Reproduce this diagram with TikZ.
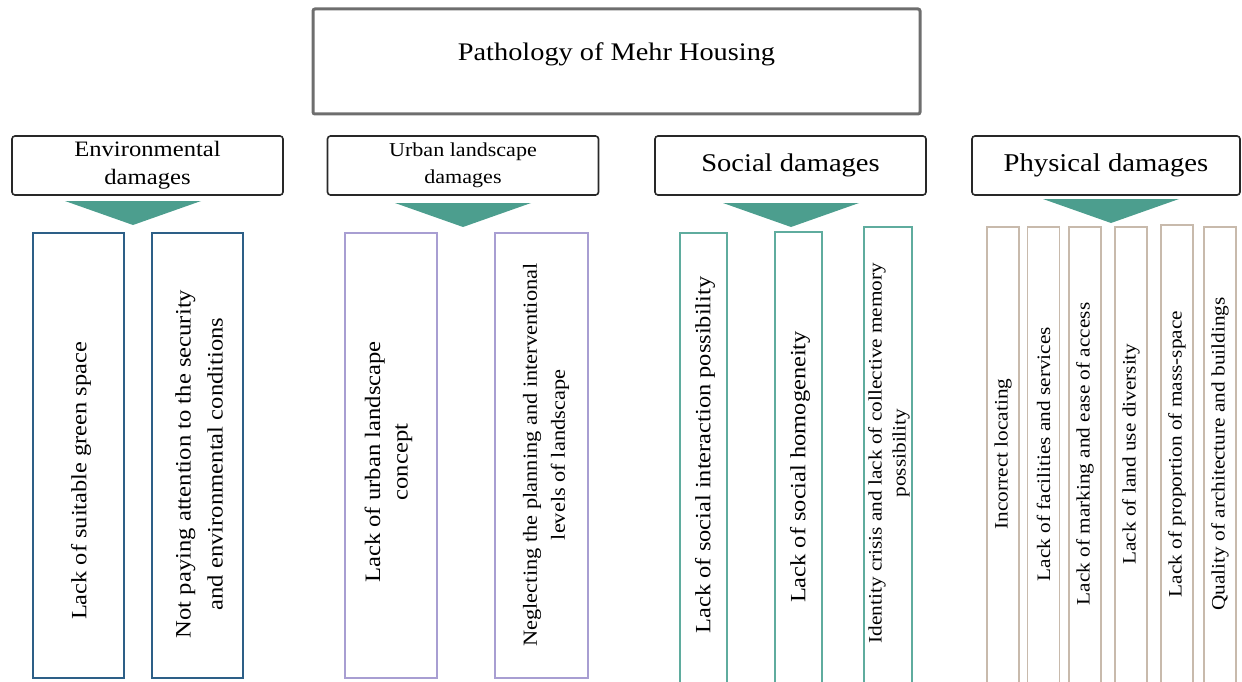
\documentclass[tikz,border=0pt]{standalone}
\usepackage{fontspec}
\setmainfont{Liberation Serif}[FakeStretch=1.12]
\usetikzlibrary{positioning}

\definecolor{framegray}{RGB}{110,110,110}
\definecolor{headline}{RGB}{40,40,40}
\definecolor{arrowteal}{RGB}{76,158,142}
\definecolor{envblue}{RGB}{45,95,135}
\definecolor{urbanlilac}{RGB}{168,158,210}
\definecolor{socialteal}{RGB}{95,172,158}
\definecolor{physicaltan}{RGB}{200,186,172}

\newcommand{\fsz}[2]{\fontsize{#1}{#2}\selectfont}

\begin{document}
\begin{tikzpicture}[x=1pt, y=-1pt,
    header/.style={draw=headline, line width=1.6pt, rounded corners=3pt,
        minimum width=271pt, minimum height=59pt, align=center, inner sep=0pt},
    itembox/.style={line width=1.8pt, inner sep=0pt, rotate=90},
    vtext/.style={rotate=90, align=center, inner sep=0pt},
    wedge/.style={fill=arrowteal}]
    \useasboundingbox (0,0) rectangle (1242,682);

    % title
    \node[draw=framegray, line width=3pt, rounded corners=2pt,
        minimum width=607pt, minimum height=105pt] (title) at (616.5,61.5) {};
    \node (titletext) at (616.5,54.5) {\fsz{25.3}{30}Pathology of Mehr Housing};

    % headers
    \node[header, font=\fsz{22}{28}] (env) at (147.5,165.5) {Environmental\\damages};
    \node[header, font=\fsz{19.7}{27}] (urban) at (463,165.5) {Urban landscape\\damages};
    \node[header, font=\fsz{25.5}{30}] (social) at (790.5,165.5) {Social damages};
    \node[header, font=\fsz{25.6}{30}, minimum width=268pt] (physical) at (1106,165.5) {Physical damages};

    % wedges below the headers
    \foreach \tx/\ty in {133/225, 463/227, 791/227, 1111/223}
        \fill[wedge] (\tx-68,\ty-24) -- (\tx+68,\ty-24) -- (\tx,\ty) -- cycle;

    % environmental
    \node[itembox, draw=envblue, minimum width=445pt, minimum height=91pt] (env1) at (78.5,455.5) {};
    \node[itembox, draw=envblue, minimum width=445pt, minimum height=91pt] (env2) at (197.5,455.5) {};
    \node[vtext, font=\fsz{21.8}{30}] (env1t) at (81,481) {Lack of suitable green space};
    \node[vtext, font=\fsz{22}{32}] (env2t) at (199,464) {Not paying attention to the security\\and environmental conditions};

    % urban landscape
    \node[itembox, draw=urbanlilac, minimum width=445pt, minimum height=92pt] (urban1) at (391,455.5) {};
    \node[itembox, draw=urbanlilac, minimum width=445pt, minimum height=93pt] (urban2) at (541.5,455.5) {};
    \node[vtext, font=\fsz{22}{27.5}] (urban1t) at (388.5,462) {Lack of urban landscape\\concept};
    \node[vtext, font=\fsz{20}{28}] (urban2t) at (546,455) {Neglecting the planning and interventional\\levels of landscape};

    % social
    \node[itembox, draw=socialteal, minimum width=453pt, minimum height=47pt] (social1) at (703.5,459.5) {};
    \node[itembox, draw=socialteal, minimum width=454pt, minimum height=47pt] (social2) at (798.5,459) {};
    \node[itembox, draw=socialteal, minimum width=459pt, minimum height=48pt] (social3) at (888,456.5) {};
    \node[vtext, font=\fsz{21.8}{30}] (social1t) at (705,455) {Lack of social interaction possibility};
    \node[vtext, font=\fsz{21.8}{30}] (social2t) at (800,467) {Lack of social homogeneity};
    \node[vtext, font=\fsz{19}{24}] (social3t) at (889,453) {Identity crisis and lack of collective memory\\possibility};

    % physical
    \foreach \cx/\top/\txt [count=\i] in {
        1003/227/Incorrect locating,
        1043.5/227/Lack of facilities and services,
        1085/227/Lack of marking and ease of access,
        1131/227/Lack of land use diversity,
        1177/225/Lack of proportion of mass-space,
        1220/227/Quality of architecture and buildings} {
        \node[itembox, draw=physicaltan, minimum width=686pt-\top pt, minimum height=32pt]
            (phys\i) at (\cx,{(686+\top)/2}) {};
        \node[vtext, font=\fsz{19}{25}] (phys\i t) at (\cx,454) {\txt};
    }
\end{tikzpicture}
\end{document}
